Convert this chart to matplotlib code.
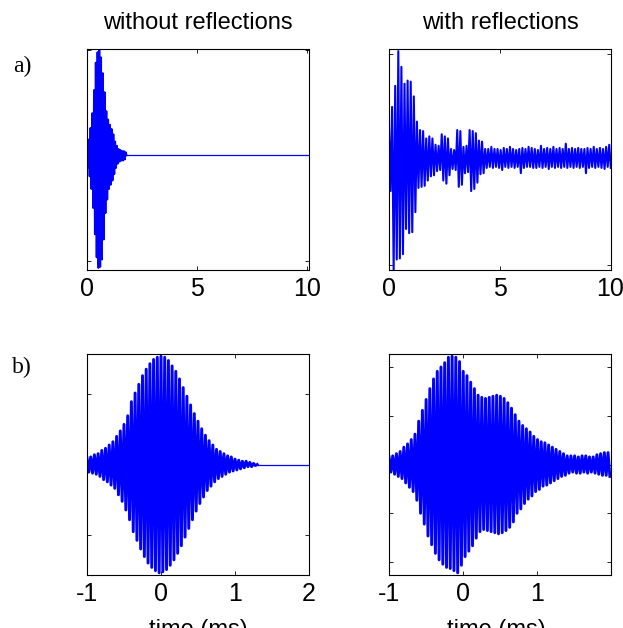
import numpy as np
import matplotlib
matplotlib.use("Agg")
import matplotlib.pyplot as plt

# a) without reflections: successive peak values, 0.04 ms apart from t = 0
tl_t0, tl_dt, tl_end = 0.0, 0.04, 10.1
tl_peaks = [0.08, -0.12, 0.15, -0.20, 0.26, -0.32, 0.40, -0.50, 0.62, -0.75,
            0.88, -0.97, 0.98, -1.07, 1.00, -1.06, 0.93, -0.99, 0.78, -0.80,
            0.60, -0.55, 0.42, -0.42, 0.34, -0.32, 0.29, -0.28, 0.25, -0.24,
            0.20, -0.18, 0.13, -0.12, 0.09, -0.08, 0.06, -0.06, 0.05, -0.05,
            0.04, -0.05, 0.04, -0.04, 0.03, 0.00]

# a) with reflections: peaks 0.07 ms apart from t = 0
tr_t0, tr_dt = 0.0, 0.07
tr_peaks = [0.30, -0.30, 0.50, -1.05, 0.70, -0.95, 1.03, -0.94, 0.88, -0.90,
            0.72, -0.66, 0.75, -0.70, 0.74, -0.69, 0.60, -0.50, 0.36, -0.27,
            0.28, -0.26, 0.27, -0.25, 0.20, -0.20, 0.22, -0.16, 0.20, -0.15,
            0.14, -0.11, 0.13, -0.10, 0.24, -0.20, 0.22, -0.23, 0.20, -0.15,
            0.10, -0.09, 0.09, -0.10, 0.28, -0.26, 0.27, -0.24, 0.12, -0.13,
            0.13, -0.12, 0.28, -0.30, 0.27, -0.28, 0.25, -0.22, 0.18, -0.14,
            0.17, -0.13, 0.10, -0.08, 0.10, -0.07, 0.12, -0.08, 0.10, -0.07,
            0.10, -0.08, 0.09, -0.10, 0.11, -0.07, 0.10, -0.08, 0.12, -0.07,
            0.10, -0.08, 0.09, -0.07, 0.10, -0.13, 0.11, -0.08, 0.10, -0.07,
            0.12, -0.07, 0.11, -0.08, 0.10, -0.08, 0.09, -0.07, 0.13, -0.08,
            0.10, -0.07, 0.11, -0.09, 0.10, -0.07, 0.12, -0.08, 0.10, -0.07,
            0.11, -0.08, 0.10, -0.07, 0.15, -0.08, 0.10, -0.07, 0.11, -0.08,
            0.10, -0.07, 0.11, -0.08, 0.10, -0.07, 0.10, -0.13, 0.11, -0.08,
            0.10, -0.07, 0.12, -0.08, 0.10, -0.07, 0.11, -0.08, 0.10, -0.09,
            0.12, -0.07, 0.14, -0.08]

# b) without reflections: peaks 0.025 ms apart from t = -1
bl_t0, bl_dt, bl_end = -1.0, 0.025, 2.0
bl_peaks = [0.06, -0.07, 0.07, -0.08, 0.09, -0.09, 0.10, -0.11,
            0.13, -0.14, 0.15, -0.16, 0.18, -0.19, 0.21, -0.22,
            0.26, -0.28, 0.31, -0.34, 0.37, -0.42, 0.45, -0.51,
            0.58, -0.62, 0.66, -0.70, 0.74, -0.78, 0.82, -0.85,
            0.88, -0.91, 0.93, -0.95, 0.97, -0.98, 0.99, -1.00,
            1.00, -0.99, 0.99, -0.97, 0.96, -0.93, 0.91, -0.88,
            0.86, -0.82, 0.79, -0.75, 0.71, -0.67, 0.63, -0.59,
            0.55, -0.51, 0.47, -0.43, 0.40, -0.36, 0.33, -0.30,
            0.27, -0.24, 0.22, -0.20, 0.18, -0.16, 0.14, -0.13,
            0.12, -0.11, 0.10, -0.09, 0.08, -0.07, 0.07, -0.06,
            0.05, -0.05, 0.04, -0.04, 0.03, -0.03, 0.03, -0.02,
            0.02, -0.02, 0.01, -0.01, 0.00]

# b) with reflections: peaks 0.025 ms apart from t = -1
br_t0, br_dt = -1.0, 0.025
br_peaks = [0.07, -0.07, 0.08, -0.09, 0.10, -0.11, 0.12, -0.13,
            0.16, -0.17, 0.19, -0.21, 0.23, -0.25, 0.28, -0.33,
            0.40, -0.45, 0.50, -0.55, 0.60, -0.66, 0.70, -0.74,
            0.79, -0.82, 0.86, -0.88, 0.90, -0.92, 0.94, -0.95,
            0.99, -0.96, 1.00, -0.98, 0.99, -1.00, 0.95, -0.93,
            0.86, -0.85, 0.82, -0.80, 0.76, -0.75, 0.70, -0.68,
            0.64, -0.62, 0.62, -0.60, 0.61, -0.61, 0.62, -0.62,
            0.63, -0.63, 0.64, -0.64, 0.63, -0.63, 0.61, -0.61,
            0.57, -0.58, 0.52, -0.53, 0.46, -0.45, 0.40, -0.41,
            0.36, -0.36, 0.33, -0.32, 0.30, -0.29, 0.26, -0.25,
            0.23, -0.23, 0.21, -0.20, 0.20, -0.19, 0.18, -0.17,
            0.16, -0.15, 0.14, -0.13, 0.12, -0.11, 0.10, -0.10,
            0.08, -0.08, 0.08, -0.07, 0.08, -0.08, 0.07, -0.08,
            0.08, -0.07, 0.08, -0.08, 0.07, -0.07, 0.07, -0.08,
            0.09, -0.09, 0.10, -0.10, 0.11, -0.10, 0.11, -0.11]

col_titles = ["without reflections", "with reflections"]
row_labels = ["a)", "b)"]


def peak_times(t0, dt, n):
    return t0 + dt * np.arange(n)


plt.rcParams["font.family"] = ["Liberation Sans", "DejaVu Sans"]
plt.rcParams["axes.unicode_minus"] = False
fig = plt.figure(figsize=(6.23, 6.28), dpi=100)

left = [87 / 623, 389 / 623]
width = 222 / 623
bottom = [1 - 270 / 628, 1 - 575 / 628]
height = 221 / 628

ax_tl = fig.add_axes([left[0], bottom[0], width, height])
ax_tr = fig.add_axes([left[1], bottom[0], width, height])
ax_bl = fig.add_axes([left[0], bottom[1], width, height])
ax_br = fig.add_axes([left[1], bottom[1], width, height])

blue = "#0000ff"

# burst drawn thick so the dense oscillation reads as solid, flat tail thin
t = peak_times(tl_t0, tl_dt, len(tl_peaks))
ax_tl.plot(t, tl_peaks, color=blue, lw=1.4)
ax_tl.plot([t[-1], tl_end], [tl_peaks[-1], 0.0], color=blue, lw=0.9)
ax_tl.set_xlim(0.05, 10.1)
ax_tl.set_ylim(-1.09, 1.01)
ax_tl.set_xticks([0, 5, 10])
ax_tl.set_yticks([-1, 0, 1])

t = peak_times(tr_t0, tr_dt, len(tr_peaks))
ax_tr.plot(t, tr_peaks, color=blue, lw=1.5)
ax_tr.set_xlim(0, 10.02)
ax_tr.set_ylim(-1.05, 1.05)
ax_tr.set_xticks([0, 5, 10])
ax_tr.set_yticks([-1, 0, 1])

t = peak_times(bl_t0, bl_dt, len(bl_peaks))
ax_bl.plot(t, bl_peaks, color=blue, lw=2.1)
ax_bl.plot([t[-1], bl_end], [bl_peaks[-1], 0.0], color=blue, lw=0.9)
ax_bl.set_xlim(-1, 2)
ax_bl.set_ylim(-1.02, 1.02)
ax_bl.set_xticks([-1, 0, 1, 2])
ax_bl.set_yticks([-0.65, 0, 0.65])

t = peak_times(br_t0, br_dt, len(br_peaks))
ax_br.plot(t, br_peaks, color=blue, lw=2.1)
ax_br.set_xlim(-1, 1.99)
ax_br.set_ylim(-1.02, 1.02)
ax_br.set_xticks([-1, 0, 1])
ax_br.set_yticks([-0.9, -0.45, 0, 0.45, 0.9])

for ax in [ax_tl, ax_tr, ax_bl, ax_br]:
    ax.tick_params(direction="in", top=True, right=True, length=3,
                   width=0.6, labelsize=18, pad=5)
    ax.set_yticklabels([])
    for s in ax.spines.values():
        s.set_linewidth(0.8)
        s.set_zorder(3)

serif = ["Liberation Serif", "DejaVu Serif"]
fig.text(198 / 623, 1 - 23 / 628, col_titles[0], ha="center", va="center", fontsize=17)
fig.text(500 / 623, 1 - 23 / 628, col_titles[1], ha="center", va="center", fontsize=17)
fig.text(22 / 623, 1 - 66 / 628, row_labels[0], ha="center", va="center",
         fontsize=17, family=serif)
fig.text(22 / 623, 1 - 367 / 628, row_labels[1], ha="center", va="center",
         fontsize=17, family=serif)
fig.text(198 / 623, -8 / 628, "time (ms)", ha="center", va="baseline", fontsize=17)
fig.text(496 / 623, -8 / 628, "time (ms)", ha="center", va="baseline", fontsize=17)

fig.savefig("out.png", dpi=100)
